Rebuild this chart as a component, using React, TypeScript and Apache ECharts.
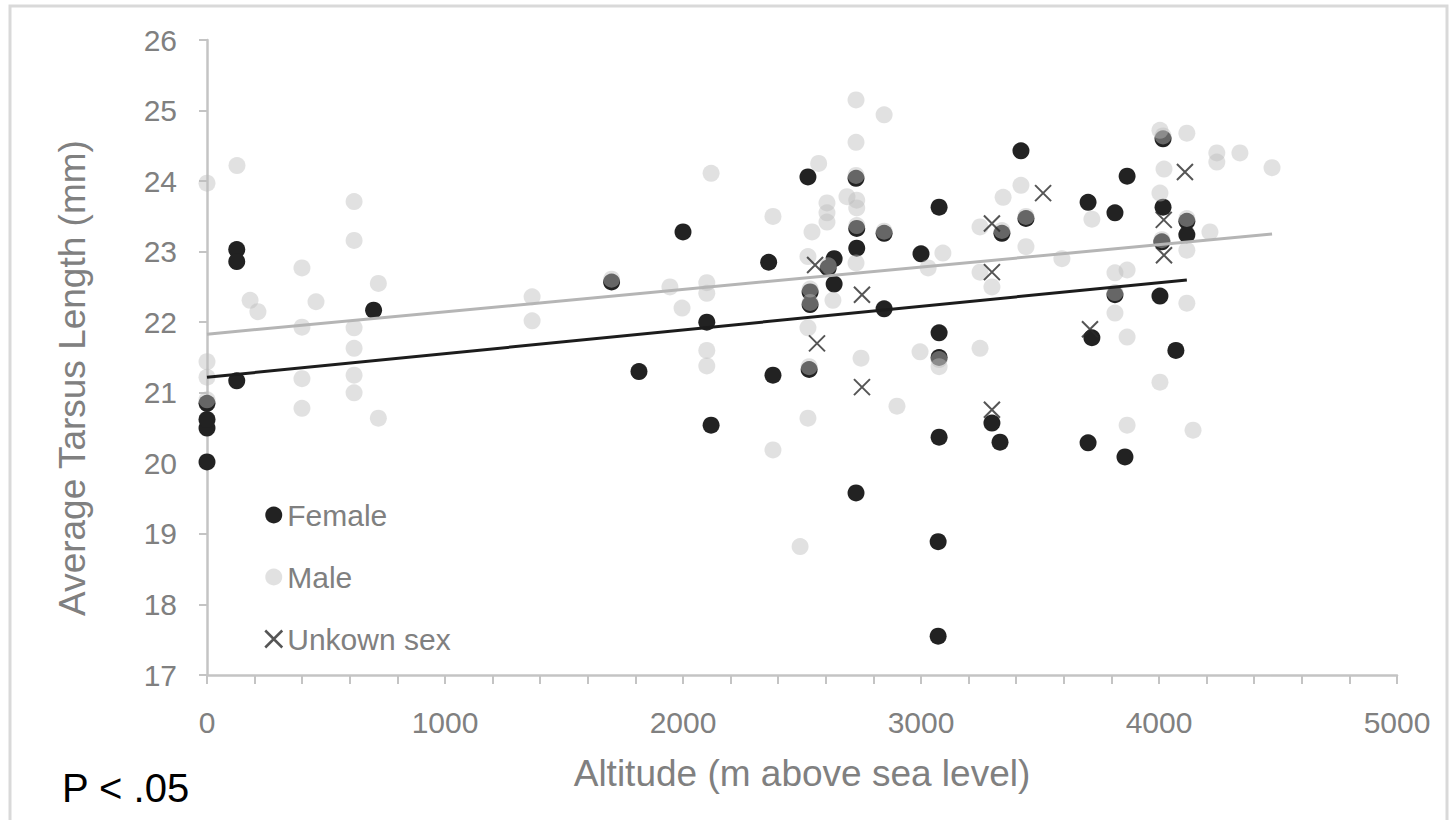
import React, { useEffect, useRef } from "react";
import * as echarts from "echarts";

const FONT = "'Liberation Sans', Arial, sans-serif";

const femalePoints: [number, number][] = [
  [0, 20.02], [0, 20.5], [0, 20.62], [0, 20.85],
  [125, 23.03], [125, 22.86], [125, 21.17],
  [700, 22.17], [1700, 22.57], [1815, 21.3], [2000, 23.28], [2100, 22.0], [2118, 20.54],
  [2360, 22.85], [2378, 21.25], [2525, 24.06], [2530, 21.33], [2534, 22.43], [2534, 22.25],
  [2610, 22.77], [2635, 22.9], [2635, 22.54], [2727, 24.04], [2730, 23.33], [2730, 23.05],
  [2727, 19.58], [2845, 23.26], [2845, 22.19], [3000, 22.97], [3076, 23.63], [3076, 21.85],
  [3076, 21.5], [3076, 20.37], [3072, 18.89], [3072, 17.55], [3298, 20.57], [3332, 20.3],
  [3340, 23.26], [3420, 24.43], [3441, 23.47], [3702, 23.7], [3702, 20.29], [3718, 21.78],
  [3815, 23.55], [3815, 22.39], [3857, 20.09], [3866, 24.07], [4004, 22.37], [4012, 23.14],
  [4017, 23.63], [4017, 24.6], [4071, 21.6], [4117, 23.43], [4117, 23.24],
];

const malePoints: [number, number][] = [
  [0, 23.97], [0, 21.44], [0, 21.22], [0, 20.9],
  [126, 24.22], [181, 22.31], [214, 22.15],
  [399, 22.77], [399, 21.93], [399, 21.2], [399, 20.78], [458, 22.29],
  [618, 23.71], [618, 23.16], [618, 21.92], [618, 21.63], [618, 21.25], [618, 21.0],
  [720, 22.55], [720, 20.64], [1366, 22.36], [1366, 22.02], [1700, 22.61],
  [1945, 22.5], [1996, 22.2], [2100, 22.56], [2100, 22.41], [2100, 21.6], [2100, 21.38],
  [2118, 24.11], [2378, 23.5], [2378, 20.19], [2492, 18.82],
  [2525, 22.93], [2525, 21.92], [2525, 20.64], [2534, 22.47], [2534, 22.28], [2530, 21.37],
  [2542, 23.28], [2570, 24.25], [2605, 23.69], [2605, 23.55], [2605, 23.42], [2610, 22.8],
  [2630, 22.31], [2689, 23.78], [2727, 24.08], [2727, 24.55], [2727, 25.15], [2730, 23.73],
  [2730, 23.62], [2730, 23.37], [2727, 22.84], [2748, 21.49], [2845, 24.94], [2845, 23.29],
  [2899, 20.81], [2996, 21.58], [3030, 22.77], [3076, 21.47], [3076, 21.37], [3092, 22.98],
  [3248, 23.35], [3248, 22.71], [3248, 21.63], [3298, 22.5], [3340, 23.3], [3345, 23.77],
  [3420, 23.94], [3441, 23.5], [3441, 23.07], [3592, 22.9], [3718, 23.46],
  [3815, 22.7], [3815, 22.42], [3815, 22.13], [3866, 22.74], [3866, 21.79], [3866, 20.54],
  [4004, 24.72], [4004, 23.83], [4004, 21.15], [4012, 23.17], [4017, 24.64], [4021, 24.17],
  [4117, 24.68], [4117, 23.47], [4117, 23.02], [4117, 22.27], [4143, 20.47], [4214, 23.28],
  [4243, 24.4], [4243, 24.27], [4340, 24.4], [4475, 24.19],
];

const unknownPoints: [number, number][] = [
  [2555, 22.81], [2752, 22.39], [2563, 21.7], [2752, 21.08], [4109, 24.13], [3513, 23.83],
  [3298, 23.4], [4020, 23.45], [4021, 22.95], [3298, 22.71], [3710, 21.9], [3298, 20.76],
];

const maleTrend: [number, number][] = [[0, 21.83], [4475, 23.25]];
const femaleTrend: [number, number][] = [[0, 21.22], [4117, 22.6]];

const seriesNames = ["Female", "Male", "Unkown sex"];
const xAxisTitle = "Altitude (m above sea level)";
const yAxisTitle = "Average Tarsus Length (mm)";
const pValueText = "P < .05";

const X_PATH = "path://M0 0L10 10M10 0L0 10";

export default function App() {
  const ref = useRef<HTMLDivElement>(null);
  useEffect(() => {
    if (!ref.current) return;
    const chart = echarts.init(ref.current, undefined, { renderer: "svg" });
    const axisColor = "#c4c4c4";
    const textColor = "#808080";
    chart.setOption({
      animation: false,
      backgroundColor: "#ffffff",
      grid: { left: 207, right: 58, top: 40, bottom: 145 },
      xAxis: {
        type: "value",
        min: 0,
        max: 5000,
        interval: 1000,
        name: xAxisTitle,
        nameLocation: "middle",
        nameGap: 80,
        nameTextStyle: { fontSize: 37, color: textColor, fontFamily: FONT },
        axisLine: { show: true, lineStyle: { color: axisColor, width: 2.5 } },
        axisTick: { show: true, length: 9, lineStyle: { color: axisColor, width: 2 } },
        minorTick: { show: true, splitNumber: 5, length: 9, lineStyle: { color: axisColor, width: 2 } },
        splitLine: { show: false },
        axisLabel: {
          fontSize: 30,
          color: textColor,
          fontFamily: FONT,
          margin: 32,
          formatter: (v: number) => String(v),
        },
      },
      yAxis: {
        type: "value",
        min: 17,
        max: 26,
        interval: 1,
        axisLine: { show: true, lineStyle: { color: axisColor, width: 2.5 } },
        axisTick: { show: true, length: 8, lineStyle: { color: axisColor, width: 2 } },
        splitLine: { show: false },
        axisLabel: { fontSize: 30, color: textColor, fontFamily: FONT, margin: 30 },
      },
      legend: {
        orient: "vertical",
        left: 259,
        top: 495,
        itemGap: 32,
        itemWidth: 17,
        itemHeight: 17,
        itemTextGap: 12,
        selectedMode: false,
        textStyle: { fontSize: 30, color: textColor, fontFamily: FONT },
        data: [
          { name: seriesNames[0], icon: "circle" },
          { name: seriesNames[1], icon: "circle" },
          {
            name: seriesNames[2],
            icon: X_PATH,
            itemStyle: { color: "transparent", borderColor: "#2a2a2a", borderWidth: 2.5 },
          },
        ],
      },
      graphic: [
        {
          type: "rect",
          shape: { x: 10, y: 6, width: 1437, height: 840 },
          style: { fill: "none", stroke: "#d9d9d9", lineWidth: 3 },
          silent: true,
        },
        {
          type: "text",
          x: 72,
          y: 378,
          rotation: Math.PI / 2,
          style: {
            text: yAxisTitle,
            fontSize: 37,
            fill: textColor,
            fontFamily: FONT,
            align: "center",
            verticalAlign: "middle",
          },
        },
        {
          type: "text",
          left: 62,
          top: 768,
          style: { text: pValueText, fontSize: 40, fill: "#000000", fontFamily: FONT },
        },
      ],
      series: [
        {
          name: "maleTrend",
          type: "line",
          data: maleTrend,
          showSymbol: false,
          symbol: "none",
          lineStyle: { color: "#b5b5b5", width: 3 },
          silent: true,
        },
        {
          name: "femaleTrend",
          type: "line",
          data: femaleTrend,
          showSymbol: false,
          symbol: "none",
          lineStyle: { color: "#1c1c1c", width: 3 },
          silent: true,
        },
        {
          name: seriesNames[0],
          type: "scatter",
          data: femalePoints,
          symbol: "circle",
          symbolSize: 17,
          itemStyle: { color: "#222222", opacity: 1 },
        },
        {
          name: seriesNames[1],
          type: "scatter",
          data: malePoints,
          symbol: "circle",
          symbolSize: 17,
          itemStyle: { color: "rgba(187,187,187,0.56)" },
        },
        {
          name: seriesNames[2],
          type: "scatter",
          data: unknownPoints,
          symbol: X_PATH,
          symbolSize: 16,
          itemStyle: { color: "transparent", borderColor: "#2a2a2a", borderWidth: 2 },
        },
      ],
    });
    return () => chart.dispose();
  }, []);
  return (
    <div
      ref={ref}
      style={{ position: "absolute", left: 0, top: 0, width: 1455, height: 820 }}
    />
  );
}
